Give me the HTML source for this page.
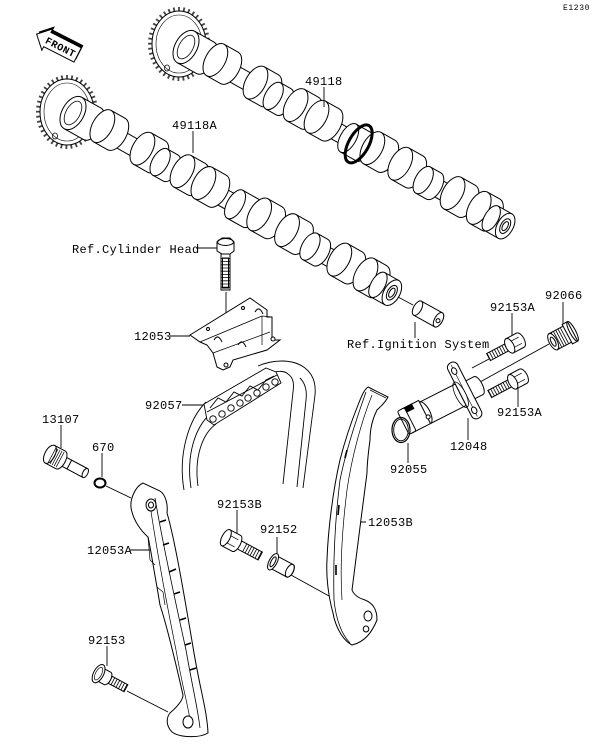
<!DOCTYPE html>
<html><head><meta charset="utf-8">
<style>
html,body{margin:0;padding:0;background:#fff;}
svg{display:block;}
text{font-family:"Liberation Mono",monospace;font-size:12px;fill:#000;letter-spacing:0.3px;}
</style></head><body>
<svg width="600" height="744" viewBox="0 0 600 744" xmlns="http://www.w3.org/2000/svg">
<defs>
<g id="cam" fill="#fff" stroke="#000" stroke-width="1">
 <rect x="0" y="-9" width="360" height="18"/>
 <path d="M0,-18H22A10,18 0 0 1 22,18H0Z"/>
 <ellipse cx="0" cy="0" rx="11" ry="18"/>
 <ellipse cx="0" cy="0" rx="7" ry="13" fill="none" stroke-width="0.8"/>
 <path d="M32,-21H48A10,18 0 0 1 48,15H32Z"/><ellipse cx="32" cy="-3" rx="10" ry="18"/>
 <path d="M78,-21H94A10,18 0 0 1 94,15H78Z"/><ellipse cx="78" cy="-3" rx="10" ry="18"/>
 <path d="M100,-15H112A8,15 0 0 1 112,15H100Z"/><ellipse cx="100" cy="0" rx="8" ry="15"/>
 <path d="M124,-21H140A10,18 0 0 1 140,15H124Z"/><ellipse cx="124" cy="-3" rx="10" ry="18"/>
 <path d="M148,-21H164A10,18 0 0 1 164,15H148Z"/><ellipse cx="148" cy="-3" rx="10" ry="18"/>
 <path d="M186,-16H204A8,16 0 0 1 204,16H186Z"/><ellipse cx="186" cy="0" rx="8" ry="16"/>
 <path d="M212,-21H228A10,18 0 0 1 228,15H212Z"/><ellipse cx="212" cy="-3" rx="10" ry="18"/>
 <path d="M244,-21H260A10,18 0 0 1 260,15H244Z"/><ellipse cx="244" cy="-3" rx="10" ry="18"/>
 <path d="M272,-15H284A8,15 0 0 1 284,15H272Z"/><ellipse cx="272" cy="0" rx="8" ry="15"/>
 <path d="M304,-21H320A10,18 0 0 1 320,15H304Z"/><ellipse cx="304" cy="-3" rx="10" ry="18"/>
 <path d="M334,-21H348A10,18 0 0 1 348,15H334Z"/><ellipse cx="334" cy="-3" rx="10" ry="18"/>
 <path d="M350,-14H366V14H350Z"/><ellipse cx="350" cy="0" rx="7" ry="14"/>
 <ellipse cx="366" cy="0" rx="8" ry="14"/>
 <ellipse cx="366" cy="0" rx="4.5" ry="8"/>
 <ellipse cx="366" cy="0" rx="2.5" ry="5"/>
</g>
<g id="gear">
 <ellipse cx="0" cy="0" rx="29" ry="35" fill="none" stroke="#444" stroke-width="4" stroke-dasharray="1.8 3.2"/>
 <ellipse cx="0" cy="0" rx="27" ry="33" fill="#fff" stroke="#000"/>
 <ellipse cx="0" cy="0" rx="23" ry="29" fill="none" stroke="#000" stroke-width="0.6"/>
 <ellipse cx="-12" cy="24" rx="2.5" ry="3" fill="none" stroke="#000" stroke-width="0.8"/>
</g>
</defs>

<text x="563" y="10" style="font-size:8px;letter-spacing:0.6px">E1230</text>

<!-- FRONT arrow -->
<g transform="translate(58,45) rotate(27)">
 <polygon points="-24,0 -12,-12 -12,-8 22,-8 22,8 -12,8 -12,12" transform="translate(0.8,-3.2)" fill="#000"/>
 <polygon points="-24,0 -12,-12 -12,-8 22,-8 22,8 -12,8 -12,12" fill="#fff" stroke="#000" stroke-width="1"/>
 <text x="-13" y="4" style="font-size:10px;font-weight:bold;letter-spacing:0.5px">FRONT</text>
</g>

<!-- camshaft 1 -->
<use href="#gear" transform="translate(179,44)"/>
<g transform="translate(186,47) rotate(29.3)">
 <use href="#cam"/>
 <ellipse cx="198" cy="0" rx="10" ry="21" fill="none" stroke="#000" stroke-width="3"/>
</g>

<!-- camshaft 2 -->
<use href="#gear" transform="translate(67,112)"/>
<use href="#cam" transform="translate(73,113) rotate(29.4)"/>

<!-- leaders -->
<g stroke="#000" stroke-width="0.9" fill="none">
 <line x1="324" y1="87" x2="324" y2="107"/>
 <line x1="193" y1="131" x2="193" y2="153"/>
 <line x1="196" y1="248" x2="218" y2="248"/>
 <line x1="170" y1="336" x2="190" y2="336"/>
 <line x1="182" y1="405" x2="203" y2="405"/>
 <line x1="61" y1="425" x2="61" y2="448"/>
 <line x1="102" y1="453" x2="102" y2="477"/>
 <line x1="106" y1="486" x2="131" y2="498"/>
 <line x1="415" y1="322" x2="415" y2="338"/>
 <line x1="398" y1="297" x2="413" y2="305"/>
 <line x1="512" y1="313" x2="512" y2="336"/>
 <line x1="563" y1="302" x2="563" y2="324"/>
 <line x1="518" y1="384" x2="518" y2="407"/>
 <line x1="468" y1="418" x2="468" y2="440"/>
 <line x1="408" y1="443" x2="408" y2="463"/>
 <line x1="489" y1="359" x2="472" y2="368"/>
 <line x1="549" y1="344" x2="480" y2="382"/>
 <line x1="237" y1="510" x2="237" y2="533"/>
 <line x1="277" y1="537" x2="277" y2="557"/>
 <line x1="291" y1="575" x2="329" y2="596"/>
 <line x1="348" y1="522" x2="366" y2="522"/>
 <line x1="130" y1="550" x2="150" y2="550"/>
 <line x1="107" y1="646" x2="107" y2="666"/>
 <line x1="127" y1="691" x2="168" y2="712"/>
 <line x1="226" y1="292" x2="226" y2="366"/>
</g>

<text x="305" y="85">49118</text>
<text x="172" y="129">49118A</text>
<text x="72" y="253">Ref.Cylinder Head</text>
<text x="134" y="340">12053</text>
<text x="145" y="409">92057</text>
<text x="42" y="423">13107</text>
<text x="92" y="451">670</text>
<text x="347" y="348">Ref.Ignition System</text>
<text x="490" y="311">92153A</text>
<text x="545" y="299">92066</text>
<text x="497" y="416">92153A</text>
<text x="450" y="450">12048</text>
<text x="390" y="473">92055</text>
<text x="217" y="508">92153B</text>
<text x="260" y="533">92152</text>
<text x="368" y="526">12053B</text>
<text x="87" y="554">12053A</text>
<text x="88" y="644">92153</text>

<!-- Cylinder head bolt -->
<g fill="#fff" stroke="#000" stroke-width="1">
 <rect x="221" y="252" width="9" height="38"/>
 <line x1="225.5" y1="258" x2="225.5" y2="288" stroke-width="8" stroke-dasharray="0.8 2.4" stroke="#000"/>
 <rect x="222.5" y="258" width="6" height="30" fill="none"/>
 <path d="M217,242 L222,238 L230,238 L234,242 L234,251 L230,254 L222,254 L217,251 Z"/>
 <ellipse cx="225.5" cy="242" rx="8" ry="3.5" fill="none"/>
</g>

<!-- Ref ignition part -->
<g transform="translate(428,314) rotate(29)" fill="#fff" stroke="#000">
 <path d="M-12,-8H12A4,8 0 0 1 12,8H-12Z"/>
 <ellipse cx="-12" cy="0" rx="4" ry="8"/>
 <ellipse cx="12" cy="0" rx="4" ry="8"/>
 <circle cx="12" cy="1" r="2"/>
</g>

<!-- Bracket 12053 -->
<g fill="#fff" stroke="#000" stroke-width="1">
 <polygon points="190,335 250,298 267,310 267,317 272,317 272,340 280,340 267,350 233,360 230,367 223,370 217,367 213,353 207,345 200,342"/>
 <polyline points="200,342 262,316 272,317" fill="none" stroke-width="0.8"/>
 <polyline points="213,353 270,332" fill="none" stroke-width="0.7"/>
 <line x1="262" y1="316" x2="262" y2="345" stroke-width="0.7"/>
 <circle cx="243" cy="308" r="1.5"/>
 <circle cx="208" cy="329" r="1.5"/>
 <circle cx="273" cy="339" r="2"/>
 <circle cx="226" cy="365" r="2"/>
 <path d="M214,340 Q218,333 222,342" fill="none"/>
 <path d="M238,345 Q242,338 246,347" fill="none"/>
 <path d="M255,312 Q259,305 263,314" fill="none"/>
</g>

<!-- Chain 92057 -->
<g fill="none" stroke="#000" stroke-width="0.9">
 <path d="M184,490 C178,455 188,420 206,402"/>
 <path d="M191,488 C186,455 195,428 210,414"/>
 <path d="M198,486 C194,458 202,434 216,424"/>
 <path d="M258,366 C272,360 292,358 305,368"/>
 <path d="M270,374 C278,370 285,371 288,374"/>
 <path d="M288,374 C294,378 294,385 293,392 L283,484"/>
 <path d="M300,378 C306,384 307,392 306,400 L297,487"/>
 <path d="M305,368 C314,375 316,385 315,395 L303,488"/>
</g>
<g fill="#fff" stroke="#000" stroke-width="0.9">
 <polygon points="204,404 266,368 276,372 281,383 214,425 207,420"/>
 <line x1="207" y1="412" x2="277" y2="375"/>
 <polyline points="210,408 218,398 226,402 234,392 242,396 250,386 258,390 266,380 274,376" fill="none"/>
 <circle cx="213" cy="419" r="3.2"/><circle cx="222" cy="414" r="3.2"/><circle cx="231" cy="408" r="3.2"/>
 <circle cx="240" cy="403" r="3.2"/><circle cx="248" cy="398" r="3.2"/><circle cx="257" cy="393" r="3.2"/>
 <circle cx="266" cy="387" r="3.2"/><circle cx="275" cy="382" r="3.2"/>
</g>

<!-- 13107 pin -->
<g transform="translate(57,458) rotate(28)" fill="#fff" stroke="#000">
 <rect x="2" y="-5" width="30" height="10"/>
 <ellipse cx="32" cy="0" rx="2.5" ry="5"/>
 <line x1="14" y1="-5" x2="14" y2="5"/>
 <path d="M-8,-10H4A5,10 0 0 1 4,10H-8Z"/>
 <ellipse cx="-8" cy="0" rx="5" ry="10"/>
 <line x1="-6" y1="0" x2="4" y2="0" stroke-width="17" stroke-dasharray="0.7 1.6"/>
</g>
<!-- 670 O-ring -->
<ellipse cx="100" cy="483" rx="5.5" ry="4.5" fill="none" stroke="#000" stroke-width="2"/>

<!-- 12053A guide -->
<g stroke="#000" stroke-width="1">
 <path d="M132,512 C128,500 136,486 143,483 L160,491 C166,495 168,505 167,513 C175,540 185,600 193,647 C200,690 207,710 208,733 C200,738 180,738 172,732 C166,726 166,718 170,713 C178,706 183,700 183,695 C175,660 165,620 160,605 L157,587 C153,565 150,545 148,537 C140,530 134,520 132,512 Z" fill="#fff"/>
 <path d="M155,498 C162,540 175,600 186,650 C193,690 198,710 200,728" fill="none" stroke-width="0.8"/>
 <path d="M150,505 C156,545 166,600 176,650 C183,690 188,705 190,720" fill="none" stroke-width="0.7"/>
 <g stroke-width="1.6">
  <line x1="160" y1="522" x2="166" y2="520"/>
  <line x1="163" y1="545" x2="169" y2="543"/>
  <line x1="169" y1="572" x2="176" y2="569"/>
  <line x1="174" y1="594" x2="180" y2="592"/>
  <line x1="180" y1="620" x2="186" y2="618"/>
  <line x1="185" y1="645" x2="191" y2="643"/>
  <line x1="190" y1="670" x2="196" y2="668"/>
 </g>
 <ellipse cx="151" cy="505" rx="5" ry="6" fill="#fff"/>
 <ellipse cx="151" cy="505" rx="2.5" ry="3" fill="none"/>
 <ellipse cx="188" cy="722" rx="5" ry="6" fill="#fff"/>
 <path d="M148,537 L150,560 L155,565" fill="none" stroke-width="0.7"/>
 <path d="M157,587 L163,592 L165,605" fill="none" stroke-width="0.7"/>
</g>

<!-- 12053B guide -->
<g stroke="#000" stroke-width="1">
 <path d="M368,387 L388,397 C385,403 380,407 377,410 C372,420 370,430 370,440 C368,455 367,465 367,473 C362,510 356,560 352,590 C354,595 358,598 365,600 C372,603 377,608 377,620 C372,632 365,642 352,645 C342,640 335,625 333,613 C328,595 326,575 327,560 C328,530 333,490 340,460 C345,440 352,420 358,405 C362,395 364,390 368,387 Z" fill="#fff"/>
 <path d="M366,392 C356,420 346,450 340,480 C335,520 333,560 334,600 C336,620 342,635 350,643" fill="none" stroke-width="0.8"/>
 <path d="M372,395 C362,420 352,455 347,490 C342,530 340,570 342,600" fill="none" stroke-width="0.7"/>
 <line x1="370" y1="390" x2="386" y2="398" stroke-width="0.7"/>
 <g stroke-width="1.6">
  <line x1="347" y1="450" x2="345" y2="458"/>
  <line x1="339" y1="505" x2="338" y2="515"/>
  <line x1="336" y1="565" x2="336" y2="575"/>
 </g>
 <ellipse cx="368" cy="616" rx="4" ry="5" fill="none"/>
 <ellipse cx="366" cy="629" rx="2.8" ry="3" fill="none"/>
</g>

<!-- 92153B bolt -->
<g transform="translate(232,541) rotate(28)" fill="#fff" stroke="#000">
 <rect x="6" y="-4.5" width="26" height="9"/>
 <line x1="14" y1="0" x2="32" y2="0" stroke-width="9" stroke-dasharray="0.8 2"/>
 <path d="M-7,-9H5A4,9 0 0 1 5,9H-7Z"/>
 <ellipse cx="-7" cy="0" rx="4" ry="9"/>
 <line x1="-4" y1="-4" x2="5" y2="-4" stroke-width="0.7"/>
 <line x1="-4" y1="4" x2="5" y2="4" stroke-width="0.7"/>
</g>
<!-- 92152 collar -->
<g transform="translate(281,566) rotate(28)" fill="#fff" stroke="#000">
 <path d="M-9,-7H10A3.5,7 0 0 1 10,7H-9Z"/>
 <ellipse cx="-9" cy="0" rx="4" ry="9"/>
 <ellipse cx="-9" cy="0" rx="2" ry="5.5" fill="none"/>
 <ellipse cx="10" cy="0" rx="3.5" ry="7" fill="none"/>
</g>
<!-- 92153 bolt -->
<g transform="translate(103,676) rotate(28)" fill="#fff" stroke="#000">
 <rect x="4" y="-4" width="22" height="8"/>
 <line x1="8" y1="0" x2="26" y2="0" stroke-width="8" stroke-dasharray="0.8 2"/>
 <path d="M-4,-7H5A3.5,7 0 0 1 5,7H-4Z"/>
 <ellipse cx="-5" cy="0" rx="5" ry="10"/>
 <ellipse cx="-5" cy="0" rx="3" ry="7" fill="none" stroke-width="0.7"/>
</g>

<!-- Tensioner 12048 -->
<g transform="translate(466,392) rotate(-27)" fill="#fff" stroke="#000">
 <path d="M4,-10H14A4,10 0 0 1 14,10H4Z"/>
 <rect x="-6" y="-33" width="11" height="62" rx="5"/>
 <line x1="-1" y1="-31" x2="-1" y2="27" stroke-width="0.6"/>
 <ellipse cx="-1" cy="-24" rx="2.5" ry="3.5"/>
 <ellipse cx="-1" cy="20" rx="2.5" ry="3.5"/>
 <path d="M-46,-12H-6V12H-46Z"/>
 <ellipse cx="-6" cy="0" rx="5" ry="14" fill="none" stroke-width="0.8"/>
 <ellipse cx="-46" cy="0" rx="5" ry="12"/>
 <path d="M-66,-14H-46V12H-66Z"/>
 <rect x="-70" y="-14" width="8" height="26" rx="2"/>
 <rect x="-62" y="-14" width="8" height="5" fill="#000"/>
 <circle cx="-45" cy="5" r="2"/>
</g>

<!-- 92153A top bolt -->
<g transform="translate(515,343) rotate(-28)" fill="#fff" stroke="#000">
 <rect x="-30" y="-4" width="26" height="8"/>
 <line x1="-30" y1="0" x2="-10" y2="0" stroke-width="8" stroke-dasharray="0.8 2"/>
 <path d="M-6,-8H6A4,8 0 0 1 6,8H-6Z"/>
 <ellipse cx="-6" cy="0" rx="4" ry="8"/>
 <line x1="-3" y1="-3.5" x2="6" y2="-3.5" stroke-width="0.7"/>
 <line x1="-3" y1="3.5" x2="6" y2="3.5" stroke-width="0.7"/>
</g>
<!-- 92153A lower bolt -->
<g transform="translate(518,379) rotate(-28)" fill="#fff" stroke="#000">
 <rect x="-32" y="-4" width="28" height="8"/>
 <line x1="-32" y1="0" x2="-10" y2="0" stroke-width="8" stroke-dasharray="0.8 2"/>
 <path d="M-6,-8H6A4,8 0 0 1 6,8H-6Z"/>
 <ellipse cx="-6" cy="0" rx="4" ry="8"/>
 <line x1="-3" y1="-3.5" x2="6" y2="-3.5" stroke-width="0.7"/>
 <line x1="-3" y1="3.5" x2="6" y2="3.5" stroke-width="0.7"/>
</g>
<!-- 92066 cap -->
<g transform="translate(562,337) rotate(-28)" fill="#fff" stroke="#000">
 <path d="M-10,-9H6A4,9 0 0 1 6,9H-10Z"/>
 <line x1="-8" y1="0" x2="4" y2="0" stroke-width="17" stroke-dasharray="0.8 1.8"/>
 <ellipse cx="-10" cy="0" rx="4" ry="9"/>
 <ellipse cx="-10" cy="0" rx="2" ry="5" fill="none"/>
 <path d="M6,-11H12V11H6Z"/>
 <ellipse cx="12" cy="0" rx="3" ry="11" fill="none"/>
</g>
<!-- 92055 O-ring -->
<ellipse cx="401" cy="430" rx="9" ry="12.5" fill="none" stroke="#000" stroke-width="1.2"/>
<ellipse cx="401" cy="430" rx="7.3" ry="10.8" fill="none" stroke="#000" stroke-width="0.9"/>

</svg>
</body></html>
